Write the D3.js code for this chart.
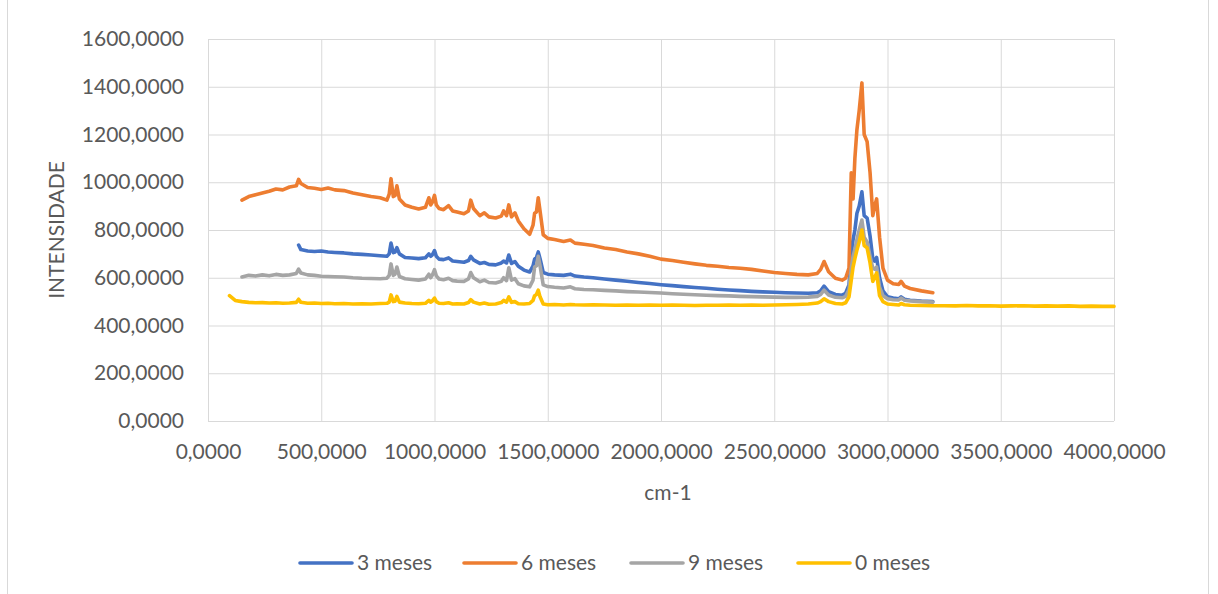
<!DOCTYPE html>
<html><head><meta charset="utf-8">
<script src="https://cdn.jsdelivr.net/npm/d3@7"></script>
<style>body{margin:0;background:#fff;overflow:hidden} text{font-family:Lato, "Open Sans", sans-serif}</style>
</head><body><svg id="chart" width="1218" height="594"></svg>
<script>
// Wavenumber grid (cm-1), shared by all series
const wavenumbers = [
  95,120,150,180,210,240,270,300,330,360,390,
  400,410,440,470,500,530,560,600,640,680,720,760,790,
  800,808,818,826,834,845,870,900,930,960,
  975,983,990,1000,1008,1020,1040,1062,1080,1100,
  1130,1150,1160,1172,1200,1220,1240,1270,1295,1305,
  1318,1328,1340,1355,1370,1395,1420,1435,1442,1450,
  1458,1466,1480,1500,1530,1570,1600,1620,1660,1700,
  1750,1800,1850,1900,1950,2000,2050,2100,2150,2200,2250,2300,2350,2400,2450,2500,2550,2600,2650,
  2690,2705,2720,2740,2770,2800,2815,2830,2840,2848,
  2856,2865,2875,2887,2897,2910,2923,2935,2943,2952,
  2965,2980,3000,3025,3050,3060,3075,3100,3150,3200,
  3250,3300,3350,3400,3450,3500,3550,3600,3650,3700,3750,3800,3850,3900,3950,4000
];
const _ = null;
const meses3 = [
  _,_,_,_,_,_,_,_,_,_,_,
  737,718,712,710,712,708,706,704,700,698,695,692,690,
  700,745,705,708,726,700,685,683,680,684,
  700,690,695,714,690,678,676,683,670,668,
  665,672,690,675,660,664,656,654,662,670,
  662,695,660,668,648,632,624,650,678,685,
  708,680,622,615,612,610,615,607,603,600,
  595,590,585,580,576,571,567,563,559,556,552,549,546,543,541,539,537,536,535,
  537,545,565,542,530,527,535,570,700,760,
  800,870,900,960,860,850,775,680,670,685,
  600,545,520,515,512,520,510,506,502,500,
  _,_,_,_,_,_,_,_,_,_,_,_,_,_,_,_
];
const meses6 = [
  _,_,925,940,948,955,962,972,968,980,985,
  1012,995,978,975,970,976,968,965,955,948,940,935,925,
  950,1015,940,945,985,930,905,895,888,895,
  935,905,915,945,905,890,885,902,880,875,
  868,880,925,890,860,872,855,850,858,880,
  860,905,855,872,838,805,782,820,870,875,
  935,880,780,765,760,752,758,745,740,735,
  725,718,708,700,690,678,672,665,658,652,648,643,640,635,628,622,618,614,612,
  618,635,668,625,598,590,598,640,1040,930,
  1100,1220,1300,1416,1200,1170,1040,860,900,930,
  770,640,590,575,572,585,565,555,545,537,
  _,_,_,_,_,_,_,_,_,_,_,_,_,_,_,_
];
const meses9 = [
  _,_,603,610,607,612,608,614,610,612,618,
  636,620,612,610,606,605,604,603,600,598,597,596,598,
  610,658,610,615,645,605,596,593,590,595,
  615,600,610,634,608,595,592,598,588,586,
  585,595,622,600,583,590,580,578,585,600,
  588,642,590,596,575,566,562,590,645,650,
  690,650,570,563,560,557,562,554,551,550,
  547,545,542,540,538,536,533,531,529,527,525,524,522,521,520,519,518,518,519,
  522,530,548,528,518,516,522,550,640,690,
  720,760,800,842,770,750,690,640,636,645,
  560,525,512,508,507,515,506,503,500,498,
  _,_,_,_,_,_,_,_,_,_,_,_,_,_,_,_
];
const meses0 = [
  525,505,500,497,495,496,494,495,493,494,497,
  510,497,493,494,492,493,491,492,490,491,490,492,493,
  498,528,500,502,522,498,494,492,491,493,
  505,498,502,515,500,493,492,495,490,491,
  490,496,508,498,490,494,489,490,496,505,
  498,520,497,500,491,490,492,505,525,530,
  548,520,490,487,488,486,488,487,486,487,
  486,485,486,485,486,485,486,485,484,485,485,486,485,486,485,486,487,488,490,
  494,500,512,500,492,490,495,520,590,645,
  680,716,750,800,735,725,662,585,600,620,
  525,500,490,488,486,492,487,485,484,483,
  483,482,484,482,483,481,482,483,481,482,481,482,480,481,480,480
];
const seriesNames = ["3 meses", "6 meses", "9 meses", "0 meses"];
const seriesColors = ["#4472C4", "#ED7D31", "#A5A5A5", "#FFC000"];
const xTicks = [0, 500, 1000, 1500, 2000, 2500, 3000, 3500, 4000];
const yTicks = [0, 200, 400, 600, 800, 1000, 1200, 1400, 1600];
const xTitle = "cm-1";
const yTitle = "INTENSIDADE";

const seriesValues = [meses3, meses6, meses9, meses0];
const svg = d3.select("#chart");
const W = 1218, H = 594;
const plot = {left: 208, right: 1114, top: 39, bottom: 421};
const x = d3.scaleLinear().domain([0, 4000]).range([plot.left, plot.right]);
const y = d3.scaleLinear().domain([0, 1600]).range([plot.bottom, plot.top]);
const fmt = d => d3.format(".4f")(d).replace(".", ",");
const textColor = "#595959", gridColor = "#d9d9d9";

svg.append("rect").attr("width", W).attr("height", H).attr("fill", "#fff");
// chart frame
svg.append("rect").attr("x", 7.5).attr("y", -2).attr("width", 1201).attr("height", H + 10)
  .attr("fill", "none").attr("stroke", gridColor).attr("stroke-width", 1);

// Y axis + horizontal gridlines
const gy = svg.append("g").attr("transform", `translate(${plot.left},0)`)
  .call(d3.axisLeft(y).tickValues(yTicks).tickFormat(fmt)
    .tickSize(-(plot.right - plot.left)).tickPadding(24));
gy.select(".domain").remove();
gy.selectAll("line").attr("stroke", gridColor).attr("stroke-width", 1);
gy.selectAll("text").attr("fill", textColor).style("font-size", "21px").style("font-family", "Lato");

// X axis + vertical gridlines
const gx = svg.append("g").attr("transform", `translate(0,${plot.bottom})`)
  .call(d3.axisBottom(x).tickValues(xTicks).tickFormat(fmt)
    .tickSize(-(plot.bottom - plot.top)).tickPadding(23));
gx.select(".domain").remove();
gx.selectAll("line").attr("stroke", gridColor).attr("stroke-width", 1);
gx.selectAll("text").attr("fill", textColor).style("font-size", "21px").style("font-family", "Lato");

// axis titles
svg.append("text").attr("x", 668).attr("y", 500).attr("text-anchor", "middle")
  .attr("fill", textColor).style("font-size", "21px").text(xTitle);
svg.append("text").attr("transform", `translate(64,${(plot.top + plot.bottom) / 2}) rotate(-90)`)
  .attr("text-anchor", "middle").attr("fill", textColor).style("font-size", "21px").text(yTitle);

// series
const line = d3.line().defined(d => d.v != null).x(d => x(d.w)).y(d => y(d.v));
seriesValues.forEach((vals, i) => {
  const pts = wavenumbers.map((w, j) => ({w, v: vals[j]}));
  svg.append("path").datum(pts).attr("d", line).attr("fill", "none")
    .attr("stroke", seriesColors[i]).attr("stroke-width", 3.6)
    .attr("stroke-linejoin", "round").attr("stroke-linecap", "round");
});

// legend
const legendX = [300, 464, 631, 798];
const legendY = 563;
seriesNames.forEach((name, i) => {
  const g = svg.append("g");
  g.append("line").attr("x1", legendX[i]).attr("x2", legendX[i] + 52)
    .attr("y1", legendY).attr("y2", legendY)
    .attr("stroke", seriesColors[i]).attr("stroke-width", 3.6).attr("stroke-linecap", "round");
  g.append("text").attr("x", legendX[i] + 57).attr("y", legendY).attr("dy", "0.35em")
    .attr("fill", textColor).style("font-size", "21px").text(name);
});
</script></body></html>
